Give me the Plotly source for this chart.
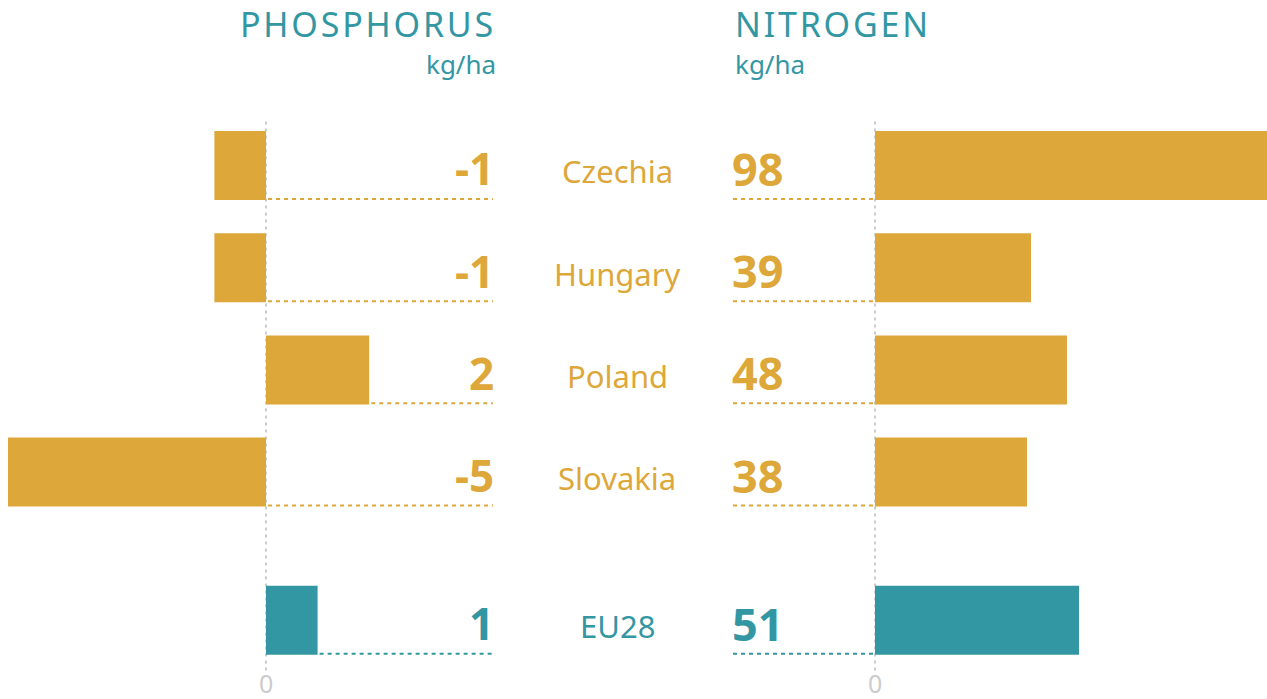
import plotly.graph_objects as go

countries = ["Czechia", "Hungary", "Poland", "Slovakia", "EU28"]
row_pos = [0, 1, 2, 3, 4.45]
phosphorus = [-1, -1, 2, -5, 1]
nitrogen = [98, 39, 48, 38, 51]
zero_tick = [0]
zero_tick_text = ["0"]

GOLD = "#DDA73A"
TEAL = "#3397A3"
GREY = "#CCCCCC"
colors = [GOLD, GOLD, GOLD, GOLD, TEAL]

W, H = 1267, 699
BAR_W = 0.675
P_RANGE = [-5.155, 4.419]
N_RANGE = [-35.5, 98]
Y_RANGE = [5.22, -1.619]
FONT = "Noto Sans"


def px(x):
    return x / W


def py(y):
    return 1 - y / H


fig = go.Figure()
fig.add_trace(go.Bar(x=phosphorus, y=row_pos, orientation="h", width=BAR_W,
                     marker=dict(color=colors, line=dict(width=0)),
                     xaxis="x", yaxis="y", hoverinfo="skip"))
fig.add_trace(go.Bar(x=nitrogen, y=row_pos, orientation="h", width=BAR_W,
                     marker=dict(color=colors, line=dict(width=0)),
                     xaxis="x2", yaxis="y", hoverinfo="skip"))

shapes = []
for xr in ["x", "x2"]:
    shapes.append(dict(type="line", xref=xr, yref="y", x0=0, x1=0, y0=-0.43, y1=4.94,
                       line=dict(color=GREY, width=2, dash="3px,4px"), layer="below"))
annotations = []
for name, yp, p, n, c in zip(countries, row_pos, phosphorus, nitrogen, colors):
    yb = yp + BAR_W / 2 - 0.01
    shapes.append(dict(type="line", xref="x", yref="y", x0=max(0, p) + 0.04, x1=P_RANGE[1] - 0.02,
                       y0=yb, y1=yb, line=dict(color=c, width=2, dash="4px,4px")))
    shapes.append(dict(type="line", xref="x2", yref="y", x0=N_RANGE[0], x1=0,
                       y0=yb, y1=yb, line=dict(color=c, width=2, dash="4px,4px")))
    annotations.append(dict(x=P_RANGE[1], y=yp, xref="x", yref="y", text=f"<b>{p}</b>",
                            showarrow=False, xanchor="right", yanchor="middle", yshift=-3,
                            xshift=2, font=dict(family=FONT, size=44, color=c)))
    annotations.append(dict(x=N_RANGE[0], y=yp, xref="x2", yref="y", text=f"<b>{n}</b>",
                            showarrow=False, xanchor="left", yanchor="middle", yshift=-3,
                            xshift=-3, font=dict(family=FONT, size=45, color=c)))
    annotations.append(dict(x=px(617), y=yp, xref="paper", yref="y", text=name,
                            showarrow=False, xanchor="center", yanchor="middle", yshift=-6,
                            font=dict(family=FONT, size=31, color=c)))

for xr, t, tt in [("x", zero_tick[0], zero_tick_text[0]), ("x2", zero_tick[0], zero_tick_text[0])]:
    annotations.append(dict(x=t, y=5.06, xref=xr, yref="y", text=tt, showarrow=False,
                            xanchor="center", yanchor="middle",
                            font=dict(family=FONT, size=25, color=GREY)))

annotations += [
    dict(x=px(498), y=py(24), xref="paper", yref="paper", xanchor="right", yanchor="middle",
         text="<span style='letter-spacing:2.8px'>PHOSPHORUS</span>", showarrow=False,
         font=dict(family=FONT, size=34, color=TEAL)),
    dict(x=px(498), y=py(64), xref="paper", yref="paper", xanchor="right", yanchor="middle",
         text="kg/ha", showarrow=False, font=dict(family=FONT, size=26, color=TEAL)),
    dict(x=px(733), y=py(24), xref="paper", yref="paper", xanchor="left", yanchor="middle",
         text="<span style='letter-spacing:2.8px'>NITROGEN</span>", showarrow=False,
         font=dict(family=FONT, size=34, color=TEAL)),
    dict(x=px(733), y=py(64), xref="paper", yref="paper", xanchor="left", yanchor="middle",
         text="kg/ha", showarrow=False, font=dict(family=FONT, size=26, color=TEAL)),
]

fig.update_layout(
    width=W, height=H, margin=dict(l=0, r=0, t=0, b=0),
    paper_bgcolor="white", plot_bgcolor="rgba(0,0,0,0)",
    showlegend=False, barmode="overlay",
    xaxis=dict(domain=[0, px(494)], range=P_RANGE, visible=False, fixedrange=True),
    xaxis2=dict(domain=[px(733), 1], range=N_RANGE, visible=False, fixedrange=True, anchor="y"),
    yaxis=dict(range=Y_RANGE, visible=False, fixedrange=True),
    shapes=shapes, annotations=annotations,
)
fig.write_html("out.html", config={"displayModeBar": False},
               post_script="document.body.style.margin='0';document.body.style.overflow='hidden';"
                           "document.documentElement.style.overflow='hidden';")
